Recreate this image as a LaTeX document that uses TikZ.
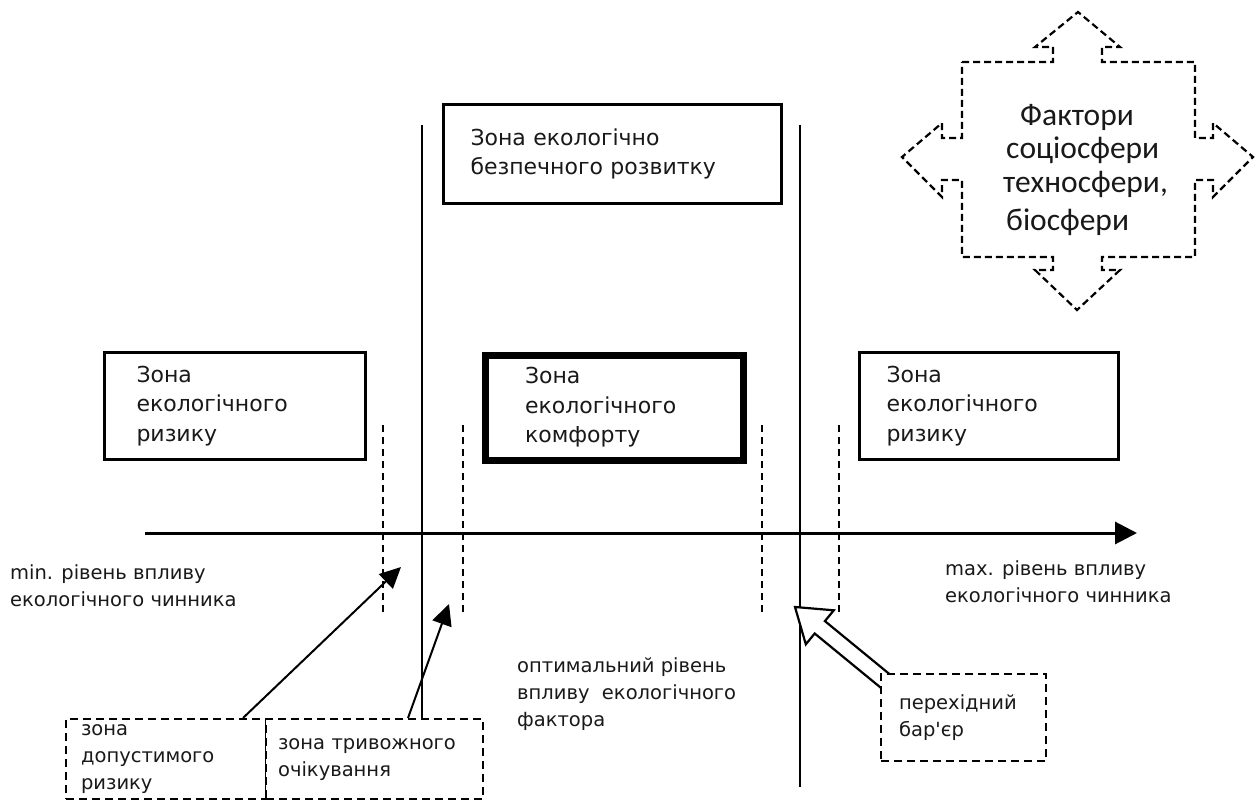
\documentclass[tikz,border=0pt]{standalone}
\usepackage{fontspec}
\setmainfont{DejaVu Sans}[Ligatures=TeXOff]
\newfontfamily\calib{Carlito}
\usetikzlibrary{arrows.meta,calc}
\newcommand\bigtxt{\fontsize{22}{29.5}\selectfont}
\newcommand\smtxt{\fontsize{19.5}{27}\selectfont}
\begin{document}
\begin{tikzpicture}[x=1pt,y=-1pt,
  box/.style={draw, line width=3pt, rectangle, anchor=north west, align=left, inner ysep=0pt, font=\bigtxt, text=black!90},
  thickbox/.style={box, line width=7pt},
  dbox/.style={draw, dash pattern=on 8pt off 5pt, line width=2.2pt, rectangle, anchor=north west, align=left, inner ysep=0pt, font=\smtxt, fill=white, text=black!90},
  dline/.style={dash pattern=on 7pt off 5pt, line width=2.4pt},
  sline/.style={line width=2.2pt},
  lbl/.style={anchor=north west, align=left, inner sep=0pt, font=\smtxt, text=black!90},
  thinarrow/.style={line width=2pt, -{Triangle[length=21pt,width=20pt]}},
  blockarrow/.style={draw, line width=2.2pt, fill=white, line join=miter},
  factshape/.style={draw, dash pattern=on 7pt off 4pt, line width=2.2pt}
]
\fill[white] (0,0) rectangle (1260,802);
\useasboundingbox (0,0) rectangle (1260,802);

% axis
\coordinate (ax0) at (145,533);
\coordinate (ax1) at (1137,533);
\draw[line width=3pt, -{Triangle[length=22pt,width=22pt]}] (ax0) -- (ax1);

% boxes
\node[box, text width=284pt, inner xsep=27pt, minimum height=99pt] (safe) at (442,103) {Зона екологічно\\безпечного розвитку};
\node[box, text width=197pt, inner xsep=32pt, minimum height=107pt] (riskL) at (103,351) {Зона\\екологічного\\ризику};
\node[thickbox, text width=178pt, inner xsep=40pt, minimum height=105pt] (comf) at (481.5,351.5) {Зона\\екологічного\\комфорту};
\node[box, text width=205pt, inner xsep=27pt, minimum height=107pt] (riskR) at (858,351) {Зона\\екологічного\\ризику};

% bottom dashed boxes
\node[dbox, text width=170pt, inner xsep=15pt, minimum height=80pt] (b1) at (65,718) {зона\\допустимого\\ризику};
\node[dbox, text width=193pt, inner xsep=12pt, minimum height=80pt] (b2) at (265,718) {зона тривожного\\очікування};

% solid vertical lines
\coordinate (v1t) at (422,125);
\coordinate (v2t) at (800,125);
\coordinate (v2b) at (800,787);
\draw[sline] (v1t) -- (v1t |- b2.north);
\draw[sline] (v2t) -- (v2b);

% dashed vertical lines
\coordinate (d1t) at (383,425); \coordinate (d1b) at (383,615);
\coordinate (d2t) at (463,425); \coordinate (d2b) at (463,615);
\coordinate (d3t) at (762,425); \coordinate (d3b) at (762,615);
\coordinate (d4t) at (839,425); \coordinate (d4b) at (839,613);
\draw[dline] (d1t) -- (d1b);
\draw[dline] (d2t) -- (d2b);
\draw[dline] (d3t) -- (d3b);
\draw[dline] (d4t) -- (d4b);

% labels
\node[lbl] (minl) at (10,564) {min. рівень впливу\\екологічного чинника};
\node[lbl] (maxl) at (945,560) {max. рівень впливу\\екологічного чинника};
\node[lbl] (optl) at (517,657) {оптимальний рівень\\впливу \ екологічного\\фактора};

% thin arrows
\coordinate (t1) at (401,567);
\coordinate (t2) at (449,604);
\draw[thinarrow] ($(b1.north west)+(178,0)$) -- (t1);
\draw[thinarrow] ($(b2.north west)+(143,0)$) -- (t2);

% hollow block arrow towards the barrier
\coordinate (bt) at (795,607);
\draw[blockarrow] (bt) -- (833.8,610.3) -- (824.9,621.1) -- (893.0,677.0) -- (882.8,689.4) -- (814.7,633.5) -- (805.8,644.3) -- cycle;
\node[dbox, text width=129pt, inner xsep=18pt, minimum height=87pt] (bar) at (880,673) {перехідний\\бар'єр};

% factors shape
\draw[factshape] (962,62) -- (1053,62) -- (1053,47) -- (1035,47) -- (1078,12) -- (1120,47) -- (1102,47) -- (1102,62)
  -- (1195,62) -- (1195,138) -- (1213,138) -- (1213,123) -- (1253,157) -- (1213,197) -- (1213,180) -- (1195,180)
  -- (1195,257) -- (1102,257) -- (1102,270) -- (1120,270) -- (1077,310) -- (1035,270) -- (1053,270) -- (1053,257)
  -- (962,257) -- (962,180) -- (942,180) -- (942,197) -- (902,157) -- (942,123) -- (942,138) -- (962,138) -- cycle;
\node[anchor=north west, align=left, inner sep=0pt, font=\calib\fontsize{31.5}{33}\selectfont, text=black!90] (fact) at (1003,104)
  {\hspace*{17pt}Фактори\\\hspace*{3pt}соціосфери\\[1pt]техносфери,\\[5pt]\hspace*{3pt}біосфери};
\end{tikzpicture}
\end{document}
